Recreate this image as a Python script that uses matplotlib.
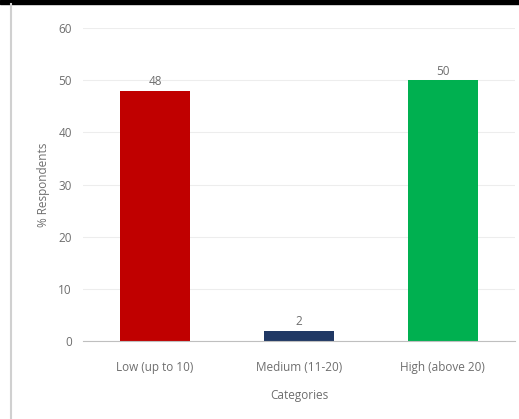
import matplotlib
matplotlib.use("Agg")
import matplotlib.pyplot as plt
from matplotlib.patches import Rectangle
from matplotlib.lines import Line2D

categories = ["Low (up to 10)", "Medium (11-20)", "High (above 20)"]
values = [48, 2, 50]
colors = ["#C00000", "#203864", "#00B050"]
yticks = [0, 10, 20, 30, 40, 50, 60]

plt.rcParams['font.family'] = ['Open Sans', 'DejaVu Sans']
txt = "#6E6E6E"
fs = 8.5

fig = plt.figure(figsize=(5.19, 4.19), dpi=100)
fig.patch.set_facecolor("white")
ax = fig.add_axes([0.16, 0.186, 0.832, 0.747])

x = list(range(len(categories)))
bars = ax.bar(x, values, width=0.49, color=colors, zorder=3)
for xi, v in zip(x, values):
    ax.text(xi, v + 0.5, str(v), ha="center", va="bottom", fontsize=fs, color=txt)

ax.set_xlim(-0.5, 2.5)
ax.set_ylim(0, 60)
ax.set_yticks(yticks)
ax.set_xticks(x)
ax.set_xticklabels(categories)
ax.tick_params(axis="both", length=0, labelsize=fs, colors=txt)
ax.tick_params(axis="y", pad=8)
ax.tick_params(axis="x", pad=14)
ax.grid(axis="y", color="#EDEDED", linewidth=0.8, zorder=0)
for s in ["top", "right", "left"]:
    ax.spines[s].set_visible(False)
ax.spines["bottom"].set_color("#BFBFBF")
ax.spines["bottom"].set_zorder(4)
ax.set_xlabel("Categories", fontsize=fs, color=txt, labelpad=11)
ax.set_ylabel("% Respondents", fontsize=fs, color=txt, labelpad=6)

# frame decorations
fig.add_artist(Rectangle((0, 1 - 4/419), 1, 4/419, transform=fig.transFigure, color="black"))
fig.add_artist(Line2D([11/519, 11/519], [0, 1 - 4/419], transform=fig.transFigure, color="#D0D0D0", linewidth=1.5))

fig.savefig("out.png", dpi=100, facecolor="white")
